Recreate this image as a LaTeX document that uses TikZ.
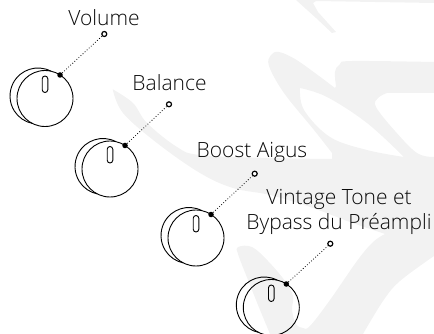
\documentclass[tikz,border=0pt]{standalone}
\usepackage{fontspec}
\setmainfont{Open Sans Light}
\definecolor{watermark}{HTML}{F2F2F2}
\definecolor{labeltext}{HTML}{0A0A0A}
\tikzset{
  knobline/.style={line width=0.9pt, black},
  labeltxt/.style={font=\fontsize{21}{25}\selectfont, text=labeltext, align=center, inner sep=0pt, anchor=base},
  leader/.style={line width=0.8pt, dotted, black},
  enddot/.style={circle, fill=black, inner sep=0pt, minimum size=5.5pt},
  endring/.style={circle, draw=black, line width=1.2pt, fill=white, inner sep=0pt, minimum size=5pt},
}
\newcommand{\knob}[5]{%
  % centre x, centre y, name, ring x, ring y
  \draw [knobline] (#1, #2) circle (28);  % face
  \draw [knobline] (#1, #2) ++(-7, -2.5) ++(-62.8:28) arc (-62.8:-258:28);  % back
  \draw [knobline, rounded corners=2.8pt] (#1 - 2.8, #2 - 22.5) rectangle (#1 + 2.8, #2 - 6);  % slot
  \node [enddot] (#3dot) at (#1 + 15, #2 - 23.5) {};
  \node [endring] (#3ring) at (#4, #5) {};
  \draw [leader] (#3dot) -- (#3ring);
}
\begin{document}
\begin{tikzpicture}[x=1pt, y=-1pt]
  \useasboundingbox (0, 0) rectangle (434, 334);
  % watermark
  \fill [watermark, even odd rule]
    plot [smooth, tension=0.6] coordinates {(112.7, 89.3) (133, 103) (147, 123) (177, 147) (200, 155) (270, 158) (332, 159)}
    -- plot [smooth, tension=0.6] coordinates {(332, 153) (314, 130) (284, 93) (269, 66) (271, 55) (279, 52) (295, 59) (315, 73) (335, 88)}
    -- plot [smooth, tension=0.6] coordinates {(336, 86) (335, 72) (340, 64) (352, 61) (434, 62)}
    -- (434, 93)
    -- plot [smooth, tension=0.6] coordinates {(387, 93) (378, 98) (376, 107) (395, 131) (417, 153) (434, 157)}
    -- (434, 256)
    -- plot [smooth, tension=0.6] coordinates {(434, 256) (400, 281) (383, 301) (363, 334)}
    -- (270, 334)
    -- plot [smooth, tension=0.6] coordinates {(270, 334) (258, 305) (248, 280) (238, 254) (238, 247) (252, 247) (268, 261) (285, 281) (293, 296) (292, 310) (296, 324) (303, 328) (310, 326) (330, 300) (357, 261) (373, 242) (385, 234)}
    -- plot [smooth, tension=0.6] coordinates {(385, 234) (350, 222) (310, 207) (270, 195) (233, 188) (200, 173) (157, 143) (123, 113) (112.7, 89.3)}
    -- cycle
    plot [smooth, tension=0.6] coordinates {(300, 88) (327, 97) (367, 123) (404, 157)}
    -- plot [smooth, tension=0.6] coordinates {(404, 157) (367, 150) (330, 137) (304, 110) (300, 88)}
    -- cycle;
  \fill [watermark]
    (296, 0) -- (316, 18) -- (332, 33) -- (336, 32) -- (318, 12) -- (313, 3) -- (316, 1) -- (434, 3) -- (434, 0) -- cycle;
  % knobs
  \knob{45}{98.5}{volume}{104.3}{34}
  \knob{110}{169}{balance}{169}{104.3}
  \knob{196}{238}{boost}{254.7}{173.7}
  \knob{271.3}{307.5}{vintage}{330.3}{243.7}
  % labels
  \node [labeltxt] (volumelabel) at (104, 25.3) {Volume};
  \node [labeltxt] (balancelabel) at (169.5, 90.7) {Balance};
  \node [labeltxt] (boostlabel) at (252, 158) {Boost Aigus};
  \node [labeltxt] (vintagelabel) at (339, 229.3) {Vintage Tone et\\Bypass du Préampli};
\end{tikzpicture}
\end{document}
